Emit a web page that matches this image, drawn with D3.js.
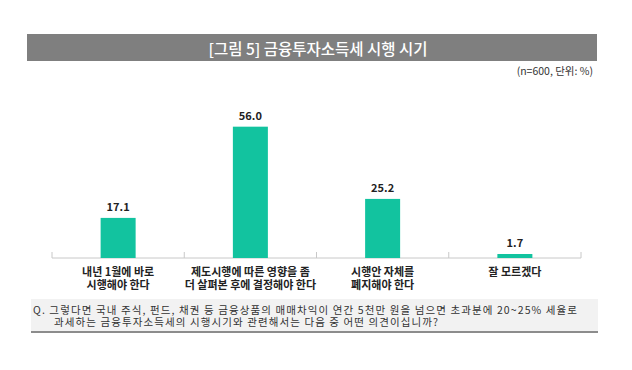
<!DOCTYPE html>
<html><head><meta charset="utf-8">
<script src="https://cdn.jsdelivr.net/npm/d3@7"></script>
<style>
html,body{margin:0;padding:0;background:#fff;}
svg{display:block;font-family:"Noto Sans CJK KR","Noto Sans",sans-serif;}
</style></head>
<body><svg id="c" width="632" height="370"></svg>
<script>
const titleText = "[그림 5] 금융투자소득세 시행 시기";
const noteText = "(n=600, 단위: %)";
const categories = [
  ["내년 1월에 바로", "시행해야 한다"],
  ["제도시행에 따른 영향을 좀", "더 살펴본 후에 결정해야 한다"],
  ["시행안 자체를", "폐지해야 한다"],
  ["잘 모르겠다"]
];
const values = [17.1, 56.0, 25.2, 1.7];
const questionLines = [
  "Q. 그렇다면 국내 주식, 펀드, 채권 등 금융상품의 매매차익이 연간 5천만 원을 넘으면 초과분에 20~25% 세율로",
  "과세하는 금융투자소득세의 시행시기와 관련해서는 다음 중 어떤 의견이십니까?"
];

const svg = d3.select("#c");

// Title bar
svg.append("rect").attr("x", 27).attr("y", 34).attr("width", 570).attr("height", 27).attr("fill", "#7f7f7f");
svg.append("text").attr("x", 318).attr("y", 47.5).attr("text-anchor", "middle").attr("dominant-baseline", "central")
  .attr("fill", "#fff").attr("font-size", 15.5).attr("font-weight", 500).text(titleText);
svg.append("text").attr("x", 593).attr("y", 70).attr("text-anchor", "end").attr("dominant-baseline", "central")
  .attr("fill", "#333").attr("font-size", 10.5).text(noteText);

// Scales
const x = d3.scaleBand().domain(d3.range(categories.length)).range([52, 581]).paddingInner(0).paddingOuter(0);
const y = d3.scaleLinear().domain([0, 60]).range([258, 117.3]);
const barW = 35;

// Axis line & boundary ticks
const g = svg.append("g");
g.append("line").attr("x1", x.range()[0]).attr("x2", x.range()[1]).attr("y1", y(0)).attr("y2", y(0))
  .attr("stroke", "#c8c8c8").attr("stroke-width", 1);
const bounds = x.domain().map(d => x(d)).concat([x.range()[1]]);
g.selectAll(".tk").data(bounds).join("line")
  .attr("x1", d => d).attr("x2", d => d).attr("y1", y(0)).attr("y2", y(0) - 6)
  .attr("stroke", "#c8c8c8").attr("stroke-width", 1);

// Bars
g.selectAll(".bar").data(values).join("rect")
  .attr("x", (d, i) => x(i) + x.bandwidth() / 2 - barW / 2)
  .attr("y", d => y(d)).attr("width", barW).attr("height", d => y(0) - y(d))
  .attr("fill", "#12c39f");

// Value labels
g.selectAll(".val").data(values).join("text")
  .attr("x", (d, i) => x(i) + x.bandwidth() / 2).attr("y", d => y(d) - 12)
  .attr("text-anchor", "middle").attr("dominant-baseline", "central")
  .attr("font-size", 11).attr("font-weight", 700).attr("fill", "#222")
  .text(d => d.toFixed(1));

// Category labels
categories.forEach((lines, i) => {
  const t = g.append("text").attr("text-anchor", "middle").attr("font-size", 11)
    .attr("font-weight", 700).attr("fill", "#222");
  lines.forEach((ln, j) => {
    t.append("tspan").attr("x", x(i) + x.bandwidth() / 2).attr("y", 270.5 + j * 13.5)
      .attr("dominant-baseline", "central").text(ln);
  });
});

// Question box
svg.append("rect").attr("x", 31).attr("y", 299).attr("width", 567).attr("height", 33).attr("fill", "#f2f2f2");
svg.append("rect").attr("x", 31).attr("y", 331).attr("width", 567).attr("height", 2).attr("fill", "#8c8c8c");
const qx = [33, 54], qy = [309, 321], qw = [544, 384];
questionLines.forEach((ln, i) => {
  svg.append("text").attr("x", qx[i]).attr("y", qy[i]).attr("dominant-baseline", "central")
    .attr("font-size", 10.5).attr("fill", "#333")
    .attr("textLength", qw[i]).attr("lengthAdjust", "spacing").text(ln);
});
</script>
</body></html>
